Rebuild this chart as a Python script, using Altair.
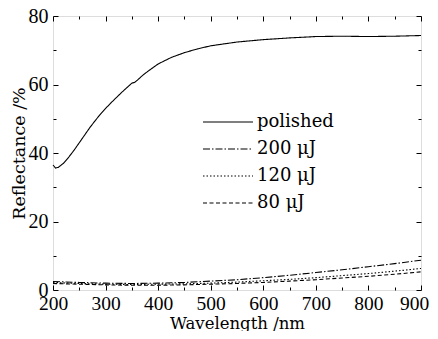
import altair as alt
import pandas as pd

# ---- data ----
pol_wl = [200, 205, 210, 220, 230, 240, 250, 260, 270, 280, 290, 300, 310, 320, 330,
          340, 350, 355, 360, 370, 380, 390, 400, 425, 450, 475, 500, 550, 600, 650,
          700, 750, 800, 850, 900]
pol_r = [36.5, 35.6, 35.8, 37.0, 38.8, 40.8, 43.0, 45.2, 47.4, 49.4, 51.3, 53.0, 54.6,
         56.1, 57.6, 59.0, 60.4, 60.6, 61.2, 62.6, 63.8, 64.9, 66.0, 67.9, 69.3, 70.4,
         71.3, 72.4, 73.1, 73.6, 74.0, 74.1, 74.0, 74.1, 74.3]

low_wl = [200, 250, 300, 350, 400, 450, 500, 550, 600, 650, 700, 750, 800, 850, 900]
r200 = [2.5, 2.2, 2.0, 1.9, 2.0, 2.2, 2.6, 3.0, 3.6, 4.3, 5.1, 5.9, 6.8, 7.7, 8.7]
r120 = [2.2, 1.9, 1.7, 1.6, 1.7, 1.8, 2.0, 2.3, 2.7, 3.1, 3.6, 4.2, 4.8, 5.5, 6.3]
r80 = [1.9, 1.7, 1.5, 1.4, 1.4, 1.5, 1.7, 1.9, 2.2, 2.6, 3.0, 3.5, 4.0, 4.6, 5.3]

series = ["polished", "200 μJ", "120 μJ", "80 μJ"]
dashes = [[1, 0], [7, 2, 1.5, 2], [1.5, 2], [4, 2.5]]

x_major = [200, 300, 400, 500, 600, 700, 800, 900]
x_minor = [250, 350, 450, 550, 650, 750, 850]
y_major = [0, 20, 40, 60, 80]
y_minor = [10, 30, 50, 70]

rows = []
for w, r in zip(pol_wl, pol_r):
    rows.append({"wl": w, "R": r, "s": series[0]})
for name, vals in zip(series[1:], [r200, r120, r80]):
    for w, r in zip(low_wl, vals):
        rows.append({"wl": w, "R": r, "s": name})
df = pd.DataFrame(rows)

FONT = "DejaVu Serif"
NUMFONT = "Liberation Serif"
xs = alt.Scale(domain=[200, 900], nice=False, zero=False)
ys = alt.Scale(domain=[0, 80], nice=False, zero=False)

lines = alt.Chart(df).mark_line(color="black", strokeWidth=1.1).encode(
    x=alt.X("wl:Q", scale=xs, title="Wavelength /nm",
            axis=alt.Axis(orient="bottom", values=x_major, offset=-5, tickSize=5,
                          domain=False, grid=False, labelPadding=4, titlePadding=2.5,
                          labelFlush=False, labelOverlap=False,
                          labelOffset={"condition": {"test": "datum.value == 900", "value": -7},
                                       "value": 0},
                          labelFont=NUMFONT, labelFontSize=19.5, titleFont=FONT,
                          titleFontSize=16.5, titleFontWeight="normal",
                          labelColor="black", titleColor="black", tickColor="black")),
    y=alt.Y("R:Q", scale=ys, title="Reflectance /%",
            axis=alt.Axis(orient="left", values=y_major, offset=-5, tickSize=5,
                          domain=False, grid=False, labelPadding=5, titlePadding=0,
                          labelFlush=False, labelOverlap=False,
                          labelFont=NUMFONT, labelFontSize=20, titleFont=FONT,
                          titleFontSize=17.5, titleFontWeight="normal",
                          labelColor="black", titleColor="black", tickColor="black")),
    strokeDash=alt.StrokeDash("s:N", scale=alt.Scale(domain=series, range=dashes),
                              sort=series,
                              legend=alt.Legend(title=None, orient="none", legendX=166,
                                                legendY=97, symbolType="M-5,0H5",
                                                symbolSize=100, symbolStrokeColor="black",
                                                symbolFillColor="transparent",
                                                symbolStrokeWidth=1.1, labelFont=FONT,
                                                labelFontSize=18, labelColor="black",
                                                labelOffset=20, rowPadding=9, padding=0)),
    detail="s:N",
)


def tick_layer(xo, yo, xv, yv, size):
    return alt.Chart(df).mark_point(opacity=0).encode(
        x=alt.X("wl:Q", scale=xs,
                axis=alt.Axis(orient=xo, values=xv, offset=-size, tickSize=size,
                              labels=False, domain=False, grid=False, title=None,
                              tickColor="black")),
        y=alt.Y("R:Q", scale=ys,
                axis=alt.Axis(orient=yo, values=yv, offset=-size, tickSize=size,
                              labels=False, domain=False, grid=False, title=None,
                              tickColor="black")),
    )


chart = alt.layer(
    lines,
    tick_layer("bottom", "left", x_minor, y_minor, 3),
    tick_layer("top", "right", x_major, y_major, 5),
    tick_layer("top", "right", x_minor, y_minor, 3),
).resolve_axis(x="independent", y="independent").properties(
    width=368, height=274,
    autosize=alt.AutoSizeParams(type="none"),
    padding={"left": 45, "top": 8, "right": 9, "bottom": 41},
).configure_view(stroke="black", strokeWidth=1.5).configure(background="white")

chart.save("out.html", embed_options={"renderer": "svg", "actions": False})
